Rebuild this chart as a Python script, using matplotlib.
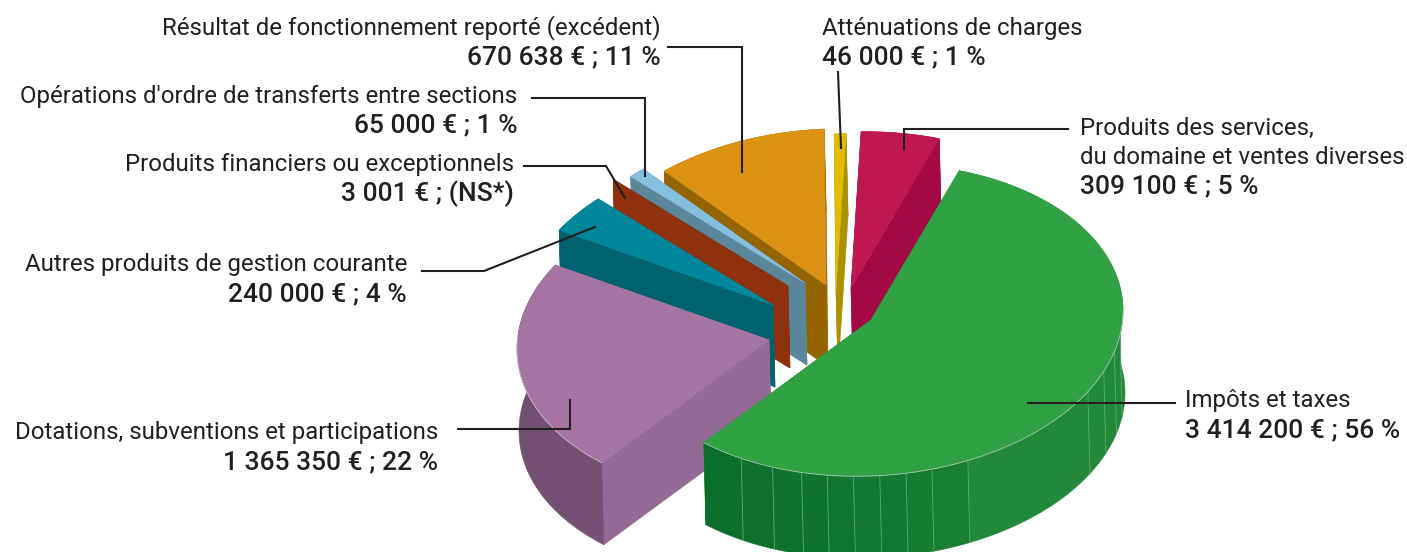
import numpy as np
import matplotlib
matplotlib.use('Agg')
import matplotlib.pyplot as plt
from matplotlib.patches import Polygon

# budget lines, clockwise from the green slice
names = ['Impôts et taxes', 'Dotations, subventions et participations',
         'Autres produits de gestion courante', 'Produits financiers ou exceptionnels',
         "Opérations d'ordre de transferts entre sections",
         'Résultat de fonctionnement reporté (excédent)', 'Atténuations de charges',
         'Produits des services,\ndu domaine et ventes diverses']
values = [3414200, 1365350, 240000, 3001, 65000, 670638, 46000, 309100]
value_labels = ['3 414 200 € ; 56 %', '1 365 350 € ; 22 %', '240 000 € ; 4 %', '3 001 € ; (NS*)',
                '65 000 € ; 1 %', '670 638 € ; 11 %', '46 000 € ; 1 %', '309 100 € ; 5 %']

top_colors = ['#30a244', '#a674a3', '#00879b', '#8f310e', '#84bfdd', '#dc9213', '#e3bb00', '#bf1751']
cut_colors = ['#1c8136', '#966a97', '#00626f', '#8f310e', '#5a879b', '#946400', '#ab9000', '#a30a45']
wall_colors = ['#1c8136', '#745072', '#00626f', '#8f310e', '#5a879b', '#946400', '#ab9000', '#a30a45']

# where each exploded slice has its tip, in pixels
tip_x = [871, 769, 773, 788, 805, 826, 836, 851]
tip_y = [320, 340, 305, 286, 283, 285, 290, 288]
draw_order = [5, 6, 7, 4, 3, 2, 1, 0]

start_angle = 20.5
radius_x, radius_y, shear = 252, 156, -0.036
depth, depth_dx = 82, 2

# seams on the green outer wall, degrees clockwise from top
seams = [98.7, 105, 112.5, 120.6, 157.4, 166, 172, 178, 184, 190, 196, 203, 211]

fig = plt.figure(figsize=(14.07, 5.52), dpi=100)
ax = fig.add_axes([0, 0, 1, 1])
ax.set_xlim(0, 1407)
ax.set_ylim(552, 0)
ax.axis('off')
plt.rcParams['font.family'] = ['Roboto', 'DejaVu Sans']


def arc_points(i, a0, a1):
    th = np.radians(np.linspace(a0, a1, max(int(abs(a1 - a0) * 2), 2)))
    u = radius_x * np.sin(th)
    return np.column_stack((tip_x[i] + u, tip_y[i] - radius_y * np.cos(th) + shear * u))


def down(pts):
    return pts + np.array([depth_dx, depth])


def add_poly(pts, color, z, edge=None):
    ax.add_patch(Polygon(pts, closed=True, facecolor=color, edgecolor=edge or color, lw=0.4, zorder=z))


shares = np.array(values) / sum(values) * 360
edges = start_angle + np.concatenate(([0], np.cumsum(shares)))

for n, i in enumerate(draw_order):
    a0, a1 = edges[i], edges[i + 1]
    z = n * 5 + 1
    tip = np.array([[tip_x[i], tip_y[i]]], dtype=float)
    for a in (a0, a1):
        corner = arc_points(i, a, a + 0.01)[:1]
        add_poly(np.vstack((tip, corner, down(corner), down(tip))), cut_colors[i], z)
    arc = arc_points(i, a0, a1)
    if i == 0:
        # green wall is cut in vertical strips getting darker to the left
        stops = [a0] + [s for s in seams if a0 < s < a1] + [a1]
        dark, light = np.array([12, 110, 43]) / 255, np.array([34, 137, 58]) / 255
        for k in range(len(stops) - 1):
            strip = arc_points(i, stops[k], stops[k + 1])
            mix = np.clip((stops[k] - 120) / 90, 0, 1)
            add_poly(np.vstack((strip, down(strip)[::-1])), tuple(light + (dark - light) * mix), z + 1)
        for s in seams:
            p = arc_points(i, s, s + 0.01)[0]
            q = down(p)
            ax.plot([p[0], q[0]], [p[1], q[1]], color='#5fa870', lw=0.6, zorder=z + 2)
    else:
        add_poly(np.vstack((arc, down(arc)[::-1])), wall_colors[i], z + 1)
    add_poly(np.vstack((tip, arc)), top_colors[i], z + 3)
    if i in (0, 1):
        front = arc_points(i, max(a0, 90), min(a1, 275))
        ax.plot(front[:, 0], front[:, 1], color='#d5d5d5', lw=0.6, alpha=0.7, zorder=z + 4)

# leader lines
leaders = [([1175, 1028], [403, 403]),
           ([458, 570, 570], [429, 429, 400]),
           ([422, 484, 595], [271, 271, 227]),
           ([524, 606, 625], [166, 166, 198]),
           ([532, 645, 645], [98, 98, 176]),
           ([668, 742, 742], [47, 47, 172]),
           ([838, 841], [72, 148]),
           ([1068, 904, 904], [129, 129, 149])]
for lx, ly in leaders:
    ax.plot(lx, ly, color='#231f20', lw=1.5, solid_joinstyle='miter', zorder=60)

# label anchors: x, y of the name's first line, alignment
label_x = [1185, 438, 407, 514, 517, 661, 822, 1080]
label_y = [401, 433, 265, 165, 96, 28, 28, 128]
label_ha = ['left', 'right', 'right', 'right', 'right', 'right', 'left', 'left']
line_gap = 29

for i, name in enumerate(names):
    lines = name.split('\n')
    for k, line in enumerate(lines):
        ax.text(label_x[i], label_y[i] + k * line_gap, line, ha=label_ha[i], va='center',
                fontsize=17.3, color='#231f20', zorder=70)
    ax.text(label_x[i], label_y[i] + len(lines) * line_gap, value_labels[i], ha=label_ha[i], va='center',
            fontsize=19, fontweight='medium', color='#231f20', zorder=70)

fig.savefig('out.png', dpi=100)
